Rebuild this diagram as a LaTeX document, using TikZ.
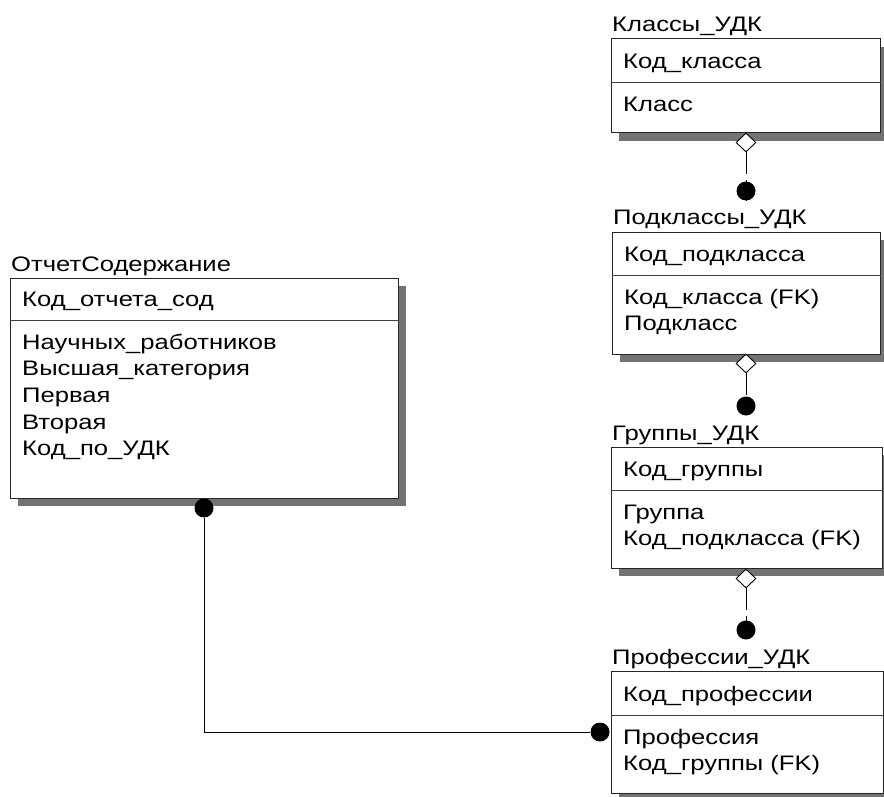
\documentclass[tikz,border=0pt]{standalone}
\usepackage{fontspec}
\setmainfont{Liberation Sans}[FakeStretch=1.22]
\usetikzlibrary{shapes.geometric,patterns}
\tikzset{
  shadowbox/.style={fill=black!55},
  ebox/.style={draw=black!85, fill=white, line width=1pt, inner sep=0pt, rectangle},
  div/.style={draw=black!75, line width=1pt},
  txt/.style={anchor=base west, inner sep=0pt, font=\fontsize{21}{26.7}\selectfont, text=black},
  dia/.style={diamond, draw=black, fill=white, line width=0.9pt, minimum width=20pt, minimum height=19pt, inner sep=0pt},
  dotn/.style={circle, fill=black, minimum size=19pt, inner sep=0pt},
  rel/.style={draw=black, line width=1pt},
  idrel/.style={rel, dash pattern=on 22pt off 6pt},
}
\newcommand\erbox[9]{%
  \fill[shadowbox] ({#2+8},{#3+8}) rectangle ({#4+8},{#6+8});
  \node[ebox, minimum width={#4-#2}, minimum height={#6-#3}] (#1) at ({(#2+#4)/2},{(#3+#6)/2}) {};
  \draw[div] (#1.west |- 0,#5) -- (#1.east |- 0,#5);
  \node[txt] (#1-t) at ({#2+1},{#3-7}) {#7};
  \node[txt] (#1-k) at ({#2+12},{#5-14}) {#8};
  \foreach \a [count=\i from 0] in {#9} \node[txt] (#1-a\i) at ({#2+12},{#5+29+26.7*\i}) {\a};
}
\begin{document}
\begin{tikzpicture}[x=1pt,y=-1pt]
\useasboundingbox (0,0) rectangle (884,797);
\fill[white] (0,0) rectangle (884,797);
\erbox{kl}{611}{39}{880}{83}{133}{Классы\_УДК}{Код\_класса}{Класс}
\erbox{pk}{612}{232}{880}{275}{354}{Подклассы\_УДК}{Код\_подкласса}{Код\_класса (FK),Подкласс}
\erbox{gr}{611}{447}{882}{490}{568}{Группы\_УДК}{Код\_группы}{Группа,Код\_подкласса (FK)}
\erbox{pr}{611}{671}{883}{715}{793}{Профессии\_УДК}{Код\_профессии}{Профессия,Код\_группы (FK)}
\erbox{ot}{10}{278}{398}{320}{498}{ОтчетСодержание}{Код\_отчета\_сод}{Научных\_работников,Высшая\_категория,Первая,Вторая,Код\_по\_УДК}
% Klassy -> Podklassy
\node[dia] (d1) at (746,142.5) {};
\coordinate (e1) at (746,201);
\draw[idrel] (d1.south) -- (e1);
\node[dotn] (p1) at (746,191) {};
% Podklassy -> Gruppy
\node[dia] (d2) at (746,363.5) {};
\coordinate (e2) at (746,415);
\draw[idrel] (d2.south) -- (e2);
\node[dotn] (p2) at (746,406) {};
% Gruppy -> Professii
\node[dia] (d3) at (746,578.5) {};
\coordinate (e3) at (746,640);
\draw[idrel] (d3.south) -- (e3);
\node[dotn] (p3) at (746,630) {};
% Otchet -> Professii
\node[dotn] (o1) at (204,508) {};
\node[dotn] (o2) at (600,732) {};
\draw[rel] (o1.south) |- (o2.west);
\end{tikzpicture}
\end{document}
